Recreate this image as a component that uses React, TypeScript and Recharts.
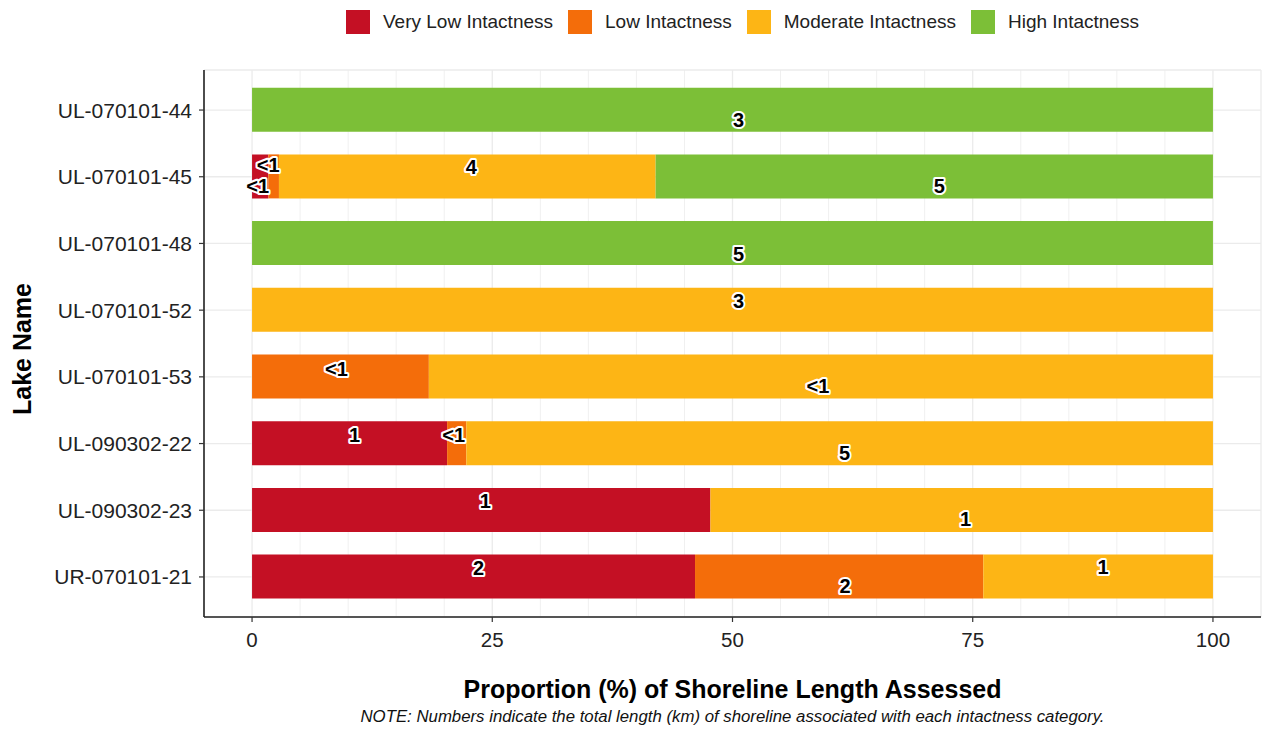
import { Bar, BarChart, CartesianGrid, LabelList, Legend, XAxis, YAxis } from "recharts";

const LAKES = [
  "UL-070101-44",
  "UL-070101-45",
  "UL-070101-48",
  "UL-070101-52",
  "UL-070101-53",
  "UL-090302-22",
  "UL-090302-23",
  "UR-070101-21",
];

// proportion (%) of shoreline length per intactness class
const VERY_LOW = [0, 1.7, 0, 0, 0, 20.3, 47.7, 46.1];
const LOW = [0, 1.1, 0, 0, 18.4, 2.0, 0, 30.0];
const MODERATE = [0, 39.2, 0, 100, 81.6, 77.7, 52.3, 23.9];
const HIGH = [100, 58.0, 100, 0, 0, 0, 0, 0];

// shoreline length (km) shown on each segment
const VERY_LOW_KM = ["", "<1", "", "", "", "1", "1", "2"];
const LOW_KM = ["", "<1", "", "", "<1", "<1", "", "2"];
const MODERATE_KM = ["", "4", "", "3", "<1", "5", "1", "1"];
const HIGH_KM = ["3", "5", "5", "", "", "", "", ""];

const X_DOMAIN = [-5, 105];
const X_TICKS = [0, 25, 50, 75, 100];
const MINOR_X = [5, 10, 15, 20, 30, 35, 40, 45, 55, 60, 65, 70, 80, 85, 90, 95];

const SERIES = [
  { key: "veryLow", km: VERY_LOW_KM, name: "Very Low Intactness", color: "#C41024" },
  { key: "low", km: LOW_KM, name: "Low Intactness", color: "#F46D0A" },
  { key: "moderate", km: MODERATE_KM, name: "Moderate Intactness", color: "#FDB515" },
  { key: "high", km: HIGH_KM, name: "High Intactness", color: "#7CBF37" },
];

// jittered label offsets [dx, dy] in px, by series then row
const NUDGE: Record<string, Record<number, [number, number]>> = {
  veryLow: { 1: [8, -11], 5: [5, -8], 6: [4, -9], 7: [5, -9] },
  low: { 1: [-16, 10], 4: [-4, -8], 5: [-3, -8], 7: [6, 9] },
  moderate: { 1: [4, -9], 3: [6, -9], 4: [-3, 9], 5: [5, 10], 6: [4, 9], 7: [5, -10] },
  high: { 0: [6, 10], 1: [5, 10], 2: [6, 11] },
};

const FONT = '"Liberation Sans", Arial, Helvetica, sans-serif';

const data = LAKES.map((lake, i) => ({
  lake,
  row: i,
  veryLow: VERY_LOW[i],
  low: LOW[i],
  moderate: MODERATE[i],
  high: HIGH[i],
}));

function makeLabel(seriesKey: string, km: string[]) {
  return (props: any) => {
    const { x, y, width, height, value } = props;
    const row = Number(value);
    const text = km[row];
    if (!text) return null;
    const [dx, dy] = NUDGE[seriesKey]?.[row] ?? [0, 0];
    return (
      <text
        x={Number(x) + Number(width) / 2 + dx}
        y={Number(y) + Number(height) / 2 + dy}
        textAnchor="middle"
        dominantBaseline="central"
        fontFamily={FONT}
        fontWeight="bold"
        fontSize={20}
        fill="#000"
        stroke="#fff"
        strokeWidth={4}
        strokeLinejoin="round"
        style={{ paintOrder: "stroke" }}
      >
        {text}
      </text>
    );
  };
}

function LegendRow() {
  return (
    <div style={{ display: "flex", alignItems: "center", paddingLeft: 346, paddingTop: 10, fontFamily: FONT }}>
      {SERIES.map((s) => (
        <div key={s.key} style={{ display: "flex", alignItems: "center", marginRight: 15 }}>
          <div style={{ width: 24, height: 24, background: s.color, marginRight: 13 }} />
          <span style={{ fontSize: 19, color: "#222" }}>{s.name}</span>
        </div>
      ))}
    </div>
  );
}

function XTitle(props: any) {
  const { viewBox } = props;
  const cx = viewBox.x + viewBox.width / 2;
  return (
    <g>
      <text x={cx} y={698} textAnchor="middle" fontFamily={FONT} fontWeight="bold" fontSize={25} fill="#000">
        Proportion (%) of Shoreline Length Assessed
      </text>
      <text x={cx} y={722} textAnchor="middle" fontFamily={FONT} fontStyle="italic" fontSize={16.8} fill="#111">
        NOTE: Numbers indicate the total length (km) of shoreline associated with each intactness category.
      </text>
    </g>
  );
}

function YTitle() {
  return (
    <text
      x={22}
      y={349}
      transform="rotate(-90 22 349)"
      textAnchor="middle"
      dominantBaseline="central"
      fontFamily={FONT}
      fontWeight="bold"
      fontSize={25}
      fill="#000"
    >
      Lake Name
    </text>
  );
}

function minorLines(props: any) {
  const scale = props.xAxis?.scale;
  const { left, width } = props.offset;
  const [lo, hi] = X_DOMAIN;
  return MINOR_X.map((v) =>
    typeof scale === "function" ? scale(v) : left + ((v - lo) / (hi - lo)) * width
  );
}

export default function App() {
  return (
    <div style={{ position: "absolute", left: 0, top: 0, width: 1263, height: 730, background: "#fff" }}>
      <BarChart
        width={1263}
        height={730}
        data={data}
        layout="vertical"
        margin={{ top: 0, right: 2, bottom: 0, left: 0 }}
        barSize={44}
      >
        <Legend verticalAlign="top" height={70} content={() => <LegendRow />} />
        <CartesianGrid stroke="#F0F0F0" strokeWidth={1} horizontal={false} verticalCoordinatesGenerator={minorLines} />
        <CartesianGrid stroke="#EBEBEB" strokeWidth={1.3} />
        <XAxis
          type="number"
          domain={X_DOMAIN}
          ticks={X_TICKS}
          allowDataOverflow
          height={113}
          tickSize={5}
          tickMargin={10}
          tickLine={{ stroke: "#333", strokeWidth: 1.2 }}
          axisLine={{ stroke: "#222", strokeWidth: 1.6 }}
          tick={{ fontFamily: FONT, fontSize: 20.5, fill: "#222" }}
          label={<XTitle />}
        />
        <YAxis
          type="category"
          dataKey="lake"
          width={204}
          padding={{ top: 6.7, bottom: 6.7 }}
          tickSize={5}
          tickMargin={7}
          tickLine={{ stroke: "#333", strokeWidth: 1.2 }}
          axisLine={{ stroke: "#222", strokeWidth: 1.6 }}
          tick={{ fontFamily: FONT, fontSize: 21, fill: "#222" }}
          label={<YTitle />}
        />
        {SERIES.map((s) => (
          <Bar key={s.key} dataKey={s.key} stackId="a" fill={s.color} isAnimationActive={false}>
            <LabelList dataKey="row" content={makeLabel(s.key, s.km)} />
          </Bar>
        ))}
      </BarChart>
    </div>
  );
}
